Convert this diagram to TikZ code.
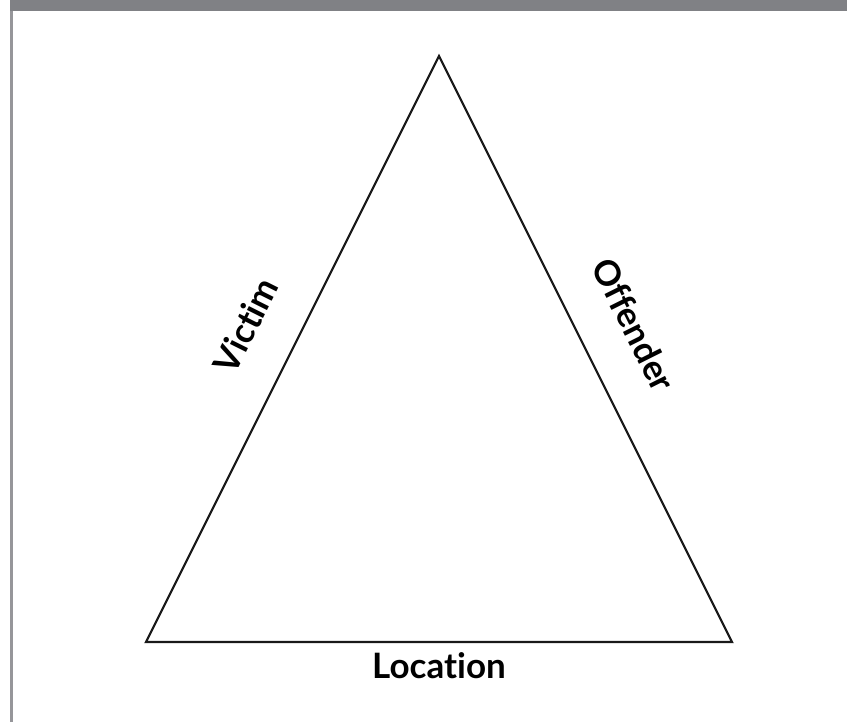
\documentclass[tikz,border=0pt]{standalone}
\usepackage{fontspec}
\setmainfont{Lato}[Ligatures={NoCommon}]
\usetikzlibrary{positioning}
\definecolor{bargray}{RGB}{128,129,133}
\definecolor{rulegray}{RGB}{150,150,154}
\tikzset{
    side/.style={draw=black!90, line width=2.2pt, line join=miter},
    sidelabel/.style={font=\fontsize{35}{40}\selectfont\bfseries, inner sep=0pt}
}
\begin{document}
\begin{tikzpicture}[x=1pt, y=-1pt]
    \useasboundingbox (0,0) rectangle (847,722);
    \fill[bargray] (10,0) rectangle (847,11);
    \fill[rulegray] (9.5,11) rectangle (12.5,722);
    \coordinate (bl) at (146,642);
    \coordinate (apex) at (439,56);
    \coordinate (br) at (732,642);
    \draw[side] (bl) -- node[sidelabel, sloped, above=38pt] (victim) {Victim}
        (apex) -- node[sidelabel, sloped, above=40pt] (offender) {Offender}
        (br) -- node[sidelabel, below=9pt] (location) {Location} cycle;
\end{tikzpicture}
\end{document}
